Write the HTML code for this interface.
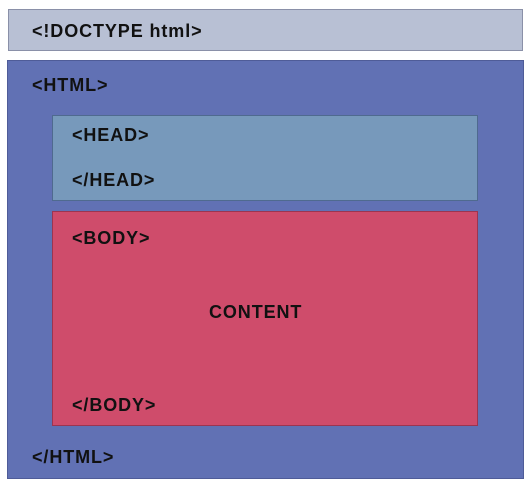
<!DOCTYPE html>
<html><head><style>
body{margin:0;width:532px;height:489px;background:#fff;position:relative;font-family:"Liberation Sans",sans-serif;font-weight:bold;font-size:18px;letter-spacing:0.9px;color:#111;}
div{position:absolute;box-sizing:border-box;}
span{position:absolute;white-space:nowrap;}
</style></head><body>
<div style="left:8px;top:9px;width:515px;height:42px;background:#b8c0d4;border:1px solid #8a90a8;"></div>
<span style="left:32px;top:21px;">&lt;!DOCTYPE html&gt;</span>
<div style="left:7px;top:60px;width:517px;height:419px;background:#6171b4;border:1px solid #4f5c98;"></div>
<span style="left:32px;top:75px;">&lt;HTML&gt;</span>
<div style="left:52px;top:115px;width:426px;height:86px;background:#7799bb;border:1px solid #4f6a8f;"></div>
<span style="left:72px;top:125px;">&lt;HEAD&gt;</span>
<span style="left:72px;top:170px;">&lt;/HEAD&gt;</span>
<div style="left:52px;top:211px;width:426px;height:215px;background:#cf4c6b;border:1px solid #9c3550;"></div>
<span style="left:72px;top:228px;">&lt;BODY&gt;</span>
<span style="left:209px;top:302px;">CONTENT</span>
<span style="left:72px;top:395px;">&lt;/BODY&gt;</span>
<span style="left:32px;top:447px;">&lt;/HTML&gt;</span>
</body></html>
